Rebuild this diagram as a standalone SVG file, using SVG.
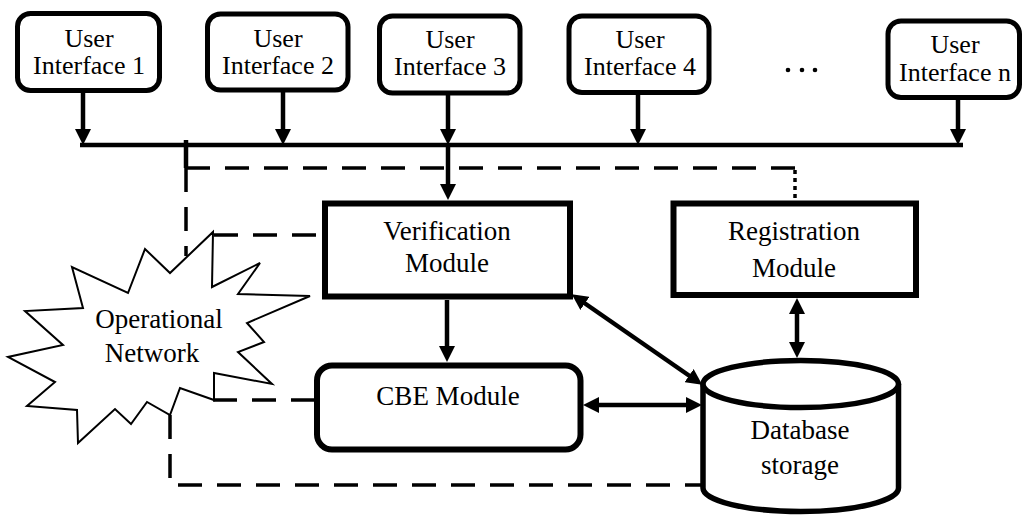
<svg xmlns="http://www.w3.org/2000/svg" width="1027" height="518" viewBox="0 0 1027 518">
  <style>
    .lbl { font-family: "Liberation Serif", "DejaVu Serif", "Times New Roman", serif; font-size: 27px; fill: #000; text-anchor: middle; }
    .ui .lbl { font-size: 26px; }
    .ui rect { fill: #fff; stroke: #000; stroke-width: 5; }
    .mod { fill: #fff; stroke: #000; stroke-width: 6; }
    .solid { fill: none; stroke: #000; stroke-width: 4.5; }
    .arrow { fill: none; stroke: #000; stroke-width: 4.5; marker-end: url(#ah); }
    .biarrow { fill: none; stroke: #000; stroke-width: 4.5; marker-start: url(#ah); marker-end: url(#ah); }
    .dash { fill: none; stroke: #000; stroke-width: 3.5; stroke-dasharray: 24 15; }
    .dot { fill: none; stroke: #000; stroke-width: 3.5; stroke-dasharray: 4 4; }
  </style>
  <defs>
    <marker id="ah" viewBox="0 0 16 16" markerWidth="16" markerHeight="16" markerUnits="userSpaceOnUse" refX="6" refY="8" orient="auto-start-reverse">
      <path d="M0,0 L16,8 L0,16 z" fill="#000"/>
    </marker>
  </defs>

  <rect width="1027" height="518" fill="#fff"/>

  <!-- connectors -->
  <g id="connectors">
    <!-- shared bus -->
    <line class="solid" x1="80" y1="145" x2="963" y2="145"/>
    <!-- interfaces onto the bus -->
    <line class="arrow" x1="83" y1="91" x2="83" y2="135"/>
    <line class="arrow" x1="283" y1="90" x2="283" y2="135"/>
    <line class="arrow" x1="448" y1="93" x2="448" y2="135"/>
    <line class="arrow" x1="638" y1="92" x2="638" y2="135"/>
    <line class="arrow" x1="958" y1="97" x2="958" y2="135"/>
    <!-- bus to verification -->
    <line class="arrow" x1="448" y1="145" x2="448" y2="190"/>
    <!-- verification to CBE -->
    <line class="arrow" x1="447" y1="300" x2="447" y2="352"/>
    <!-- database links -->
    <line class="biarrow" x1="580" y1="300" x2="694" y2="379"/>
    <line class="biarrow" x1="593" y1="405" x2="692" y2="405"/>
    <line class="biarrow" x1="797" y1="308" x2="797" y2="348"/>
    <!-- network links -->
    <line class="solid" x1="186" y1="140" x2="186" y2="168"/>
    <path class="dash" d="M186,168 H795"/>
    <path class="dash" d="M186,168 V256"/>
    <path class="dot" d="M795,170 V201"/>
    <path class="dash" d="M214,235 H323"/>
    <path class="dash" d="M213,400 H315"/>
    <path class="dash" d="M170,415 V485 H701"/>
    <!-- more interfaces -->
    <circle cx="788" cy="70" r="2.3" fill="#000"/>
    <circle cx="802" cy="70" r="2.3" fill="#000"/>
    <circle cx="815" cy="70" r="2.3" fill="#000"/>
  </g>

  <g id="ui1" class="ui">
    <rect x="17.5" y="13.5" width="142" height="77" rx="13"/>
    <text class="lbl" x="89" y="47">User</text>
    <text class="lbl" x="89" y="74">Interface 1</text>
  </g>
  <g id="ui2" class="ui">
    <rect x="207.5" y="14" width="140.5" height="76" rx="13"/>
    <text class="lbl" x="278" y="47">User</text>
    <text class="lbl" x="278" y="74">Interface 2</text>
  </g>
  <g id="ui3" class="ui">
    <rect x="379.5" y="16" width="140.5" height="77" rx="13"/>
    <text class="lbl" x="450" y="48">User</text>
    <text class="lbl" x="450" y="75">Interface 3</text>
  </g>
  <g id="ui4" class="ui">
    <rect x="569" y="16" width="140" height="76.5" rx="13"/>
    <text class="lbl" x="640" y="48">User</text>
    <text class="lbl" x="640" y="75">Interface 4</text>
  </g>
  <g id="uin" class="ui">
    <rect x="888" y="21" width="131.5" height="76.5" rx="13"/>
    <text class="lbl" x="955" y="53">User</text>
    <text class="lbl" x="955" y="81">Interface n</text>
  </g>

  <g id="verification">
    <rect class="mod" x="325" y="203.5" width="245" height="93"/>
    <text class="lbl" x="447" y="240">Verification</text>
    <text class="lbl" x="447" y="272">Module</text>
  </g>

  <g id="registration">
    <rect class="mod" x="673.5" y="203.5" width="242.5" height="91.5"/>
    <text class="lbl" x="794" y="240">Registration</text>
    <text class="lbl" x="794" y="277">Module</text>
  </g>

  <g id="cbe">
    <rect class="mod" x="317" y="365.5" width="263.5" height="84" rx="15" stroke-width="5.5"/>
    <text class="lbl" x="448" y="405">CBE Module</text>
  </g>

  <g id="database">
    <path d="M703,384 V488 A97.75,23.5 0 0 0 898.5,488 V384" fill="#fff" stroke="#000" stroke-width="5.5"/>
    <ellipse cx="800.75" cy="384" rx="97.75" ry="23.5" fill="#fff" stroke="#000" stroke-width="5.5"/>
    <text class="lbl" x="800" y="439">Database</text>
    <text class="lbl" x="800" y="474">storage</text>
  </g>

  <g id="network">
    <polygon points="213,232 212,287 260,263 238,294 310,296 247,323 264,342 238,352 272,384 214,373 214,400 180,388 170,415 147,402 131,424 115,409 78,443 77,410 27,406 55,382 8,357 63,345 25,311 83,308 72,267 128,293 145,249 170,273" fill="#fff" stroke="#000" stroke-width="2" stroke-linejoin="miter"/>
    <text class="lbl" x="159" y="328">Operational</text>
    <text class="lbl" x="152" y="362">Network</text>
  </g>
</svg>
